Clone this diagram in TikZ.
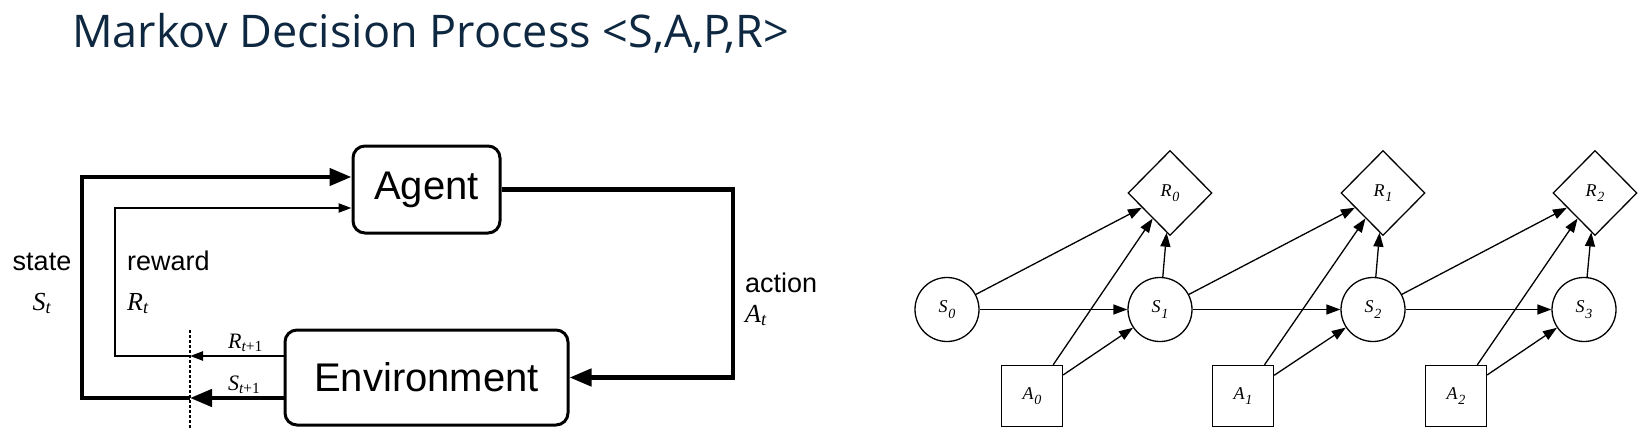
\documentclass[tikz,border=0pt]{standalone}
\usepackage{fontspec}
\setmainfont{Liberation Sans}
\newfontfamily\timesfont{Liberation Serif}
\newfontfamily\titlefont{Open Sans}
\usetikzlibrary{arrows.meta,shapes.geometric}
\definecolor{titleblue}{RGB}{14,40,65}
\newcommand{\tvar}[2]{#1\textsubscript{#2}}
\newcommand{\tsub}[2]{#1\kern0.03em\raisebox{-0.3em}{\fontsize{14}{14}\selectfont #2}}
\begin{document}
\begin{tikzpicture}[x=1pt,y=-1pt,
    box/.style={draw,line width=3pt,rounded corners=12pt,inner sep=0pt,font=\fontsize{40}{44}\selectfont},
    boldline/.style={line width=4.5pt},
    thinline/.style={line width=2.3pt},
    bighead/.style={-{Triangle[length=22pt,width=17pt]}},
    smallhead/.style={-{Triangle[length=13pt,width=9pt]}},
    lbl/.style={inner sep=0pt,font=\fontsize{27}{30}\selectfont},
    mathlbl/.style={inner sep=0pt,font=\fontsize{26}{28}\selectfont\timesfont\itshape},
    sublbl/.style={inner sep=0pt,font=\fontsize{22}{24}\selectfont\timesfont\itshape},
    snode/.style={draw,circle,line width=1.3pt,minimum size=64pt,inner sep=0pt,font=\fontsize{18}{20}\selectfont\timesfont\itshape},
    rnode/.style={draw,diamond,line width=1.3pt,minimum width=84pt,minimum height=85pt,inner sep=0pt,font=\fontsize{18}{20}\selectfont\timesfont\itshape},
    anode/.style={draw,rectangle,line width=1.3pt,minimum size=61pt,inner sep=0pt,font=\fontsize{18}{20}\selectfont\timesfont\itshape},
    link/.style={line width=1.3pt,-{Triangle[length=14pt,width=10pt]}}
]
\useasboundingbox (0,0) rectangle (1642,428);
\node[anchor=base west,inner sep=0pt,text=titleblue,font=\titlefont\fontsize{45}{48}\selectfont] (title) at (72,48) {Markov Decision Process <S,A,P,R>};

% agent-environment loop
\node[box,minimum width=147pt,minimum height=87pt] (agent) at (426.5,189.5) {Agent};
\node[box,minimum width=283pt,minimum height=95pt] (env) at (426.5,377.5) {Environment};
\coordinate (dtop) at (190,330);
\coordinate (dbot) at (190,428);
\coordinate (sbot) at (82,398);
\coordinate (stop) at (82,177);
\coordinate (rbot) at (115,356);
\coordinate (rtop) at (115,208);
\coordinate (aside) at (733,0);
\draw[line width=1.5pt,dash pattern=on 3pt off 2pt] (dtop) -- (dbot);
\draw[boldline,bighead] (env.west |- sbot) -- (dbot |- sbot);
\draw[boldline,bighead] (dbot |- sbot) -- (sbot) -- (stop) -- (agent.west |- stop);
\draw[thinline,smallhead] (env.west |- rbot) -- (dbot |- rbot);
\draw[thinline,smallhead] (dbot |- rbot) -- (rbot) -- (rtop) -- (agent.west |- rtop);
\draw[boldline,bighead] (agent.east) -- (agent.east -| aside) -- (env.east -| aside) -- (env.east);
\node[lbl,anchor=base] (statetxt) at (42,270) {state};
\node[mathlbl,anchor=base] (stxt) at (42,310) {\tvar{S}{t}};
\node[lbl,anchor=base west] (rewardtxt) at (127,270) {reward};
\node[mathlbl,anchor=base west] (rtxt) at (127,310) {\tvar{R}{t}};
\node[lbl,anchor=base west] (actiontxt) at (745,292) {action};
\node[mathlbl,anchor=base west] (atxt) at (745,322) {\tvar{A}{t}};
\node[sublbl,anchor=base west] (rnext) at (228,348) {\tvar{R}{t\upshape+1}};
\node[sublbl,anchor=base west] (snext) at (228,390) {\tvar{S}{t\upshape+1}};

% unrolled MDP
\foreach \i/\x in {0/947,1/1160,2/1373,3/1584}
    \node[snode] (s\i) at (\x,309.5) {\tsub{S}{\i}};
\foreach \i/\x in {0/1170,1/1383,2/1595}
    \node[rnode] (r\i) at (\x,193) {\tsub{R}{\i}};
\foreach \i/\x in {0/1032,1/1243,2/1456}
    \node[anode] (a\i) at (\x,396) {\tsub{A}{\i}};
\foreach \i/\j in {0/1,1/2,2/3} {
    \draw[link] (s\i) -- (s\j);
    \draw[link] (s\i) -- (r\i);
    \draw[link] (s\j) -- (r\i);
    \draw[link] (a\i) -- (r\i);
    \draw[link] (a\i) -- (s\j);
}
\end{tikzpicture}
\end{document}
